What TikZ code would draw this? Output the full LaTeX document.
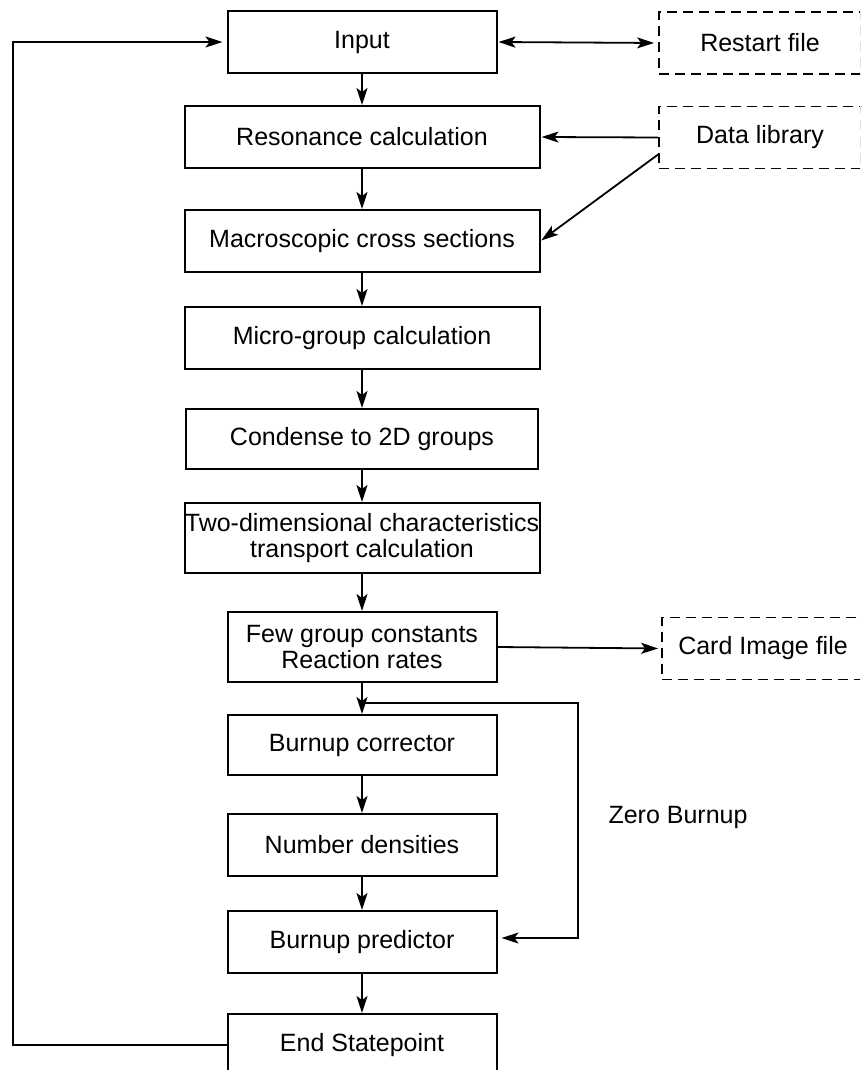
\documentclass[tikz,border=0pt]{standalone}
\usepackage{fontspec}
\setmainfont{Liberation Sans}
\usetikzlibrary{arrows.meta}

\begin{document}
\begin{tikzpicture}[
    x=1pt, y=-1pt,
    font=\fontsize{25}{26.5}\selectfont,
    >={Stealth[length=17pt, width=11pt, inset=4pt]},
    box/.style={draw, line width=2pt, align=center, inner sep=0pt, minimum height=62pt},
    narrowbox/.style={box, minimum width=269pt},
    widebox/.style={box, minimum width=355pt},
    filebox/.style={draw, dashed, dash pattern=on 10pt off 6pt, line width=1.8pt, minimum width=202pt, minimum height=62pt, inner sep=0pt},
    arr/.style={->, line width=1.8pt},
    lbl/.style={inner sep=0pt},
]
    \useasboundingbox (0,0) rectangle (860,1070);
    \clip (0,0) rectangle (860,1070);

    % Main column
    \node[narrowbox] (inp) at (362, 42)   {Input};
    \node[widebox]   (res) at (362, 137)  {Resonance calculation};
    \node[widebox]   (mac) at (362, 241)  {Macroscopic cross sections};
    \node[widebox]   (mic) at (362, 338)  {Micro-group calculation};
    \node[widebox, minimum width=352pt, minimum height=60pt] (con) at (362, 439) {Condense to 2D groups};
    \node[widebox, minimum height=70pt] (two) at (362, 538) {Two-dimensional characteristics\\transport calculation};
    \node[narrowbox, minimum height=70pt] (few) at (362, 647) {Few group constants\\Reaction rates};
    \node[narrowbox, minimum height=60pt] (cor) at (362, 745) {Burnup corrector};
    \node[narrowbox] (num) at (362, 845)  {Number densities};
    \node[narrowbox] (pre) at (362, 942)  {Burnup predictor};
    \node[narrowbox] (end) at (362, 1045) {End Statepoint};

    % Files on the right
    \node[filebox] (rst)  at (760, 43)    {Restart file};
    \node[filebox] (data) at (760, 137.5) {Data library};
    \node[filebox] (card) at (763, 648.5) {Card Image file};

    \node[lbl] (zb) at (678, 817) {Zero Burnup};

    % Loop corners
    \coordinate (jct)   at (362, 703);
    \coordinate (zbtop) at (578, 703);
    \coordinate (fbbot) at (13, 1045);

    % Arrows down the column
    \draw[arr] (inp) -- (res);
    \draw[arr] (res) -- (mac);
    \draw[arr] (mac) -- (mic);
    \draw[arr] (mic) -- (con);
    \draw[arr] (con) -- (two);
    \draw[arr] (two) -- (few);
    \draw[arr] (few) -- (cor);
    \draw[arr] (cor) -- (num);
    \draw[arr] (num) -- (pre);
    \draw[arr] (pre) -- (end);

    % Files
    \draw[arr, <->, shorten <=1pt, shorten >=4pt] (inp.east) -- (rst.west);
    \draw[arr, shorten >=1pt] (data.west) -- (res.east);
    \draw[arr, shorten >=1pt] ([yshift=-17pt]data.west) -- (mac.east);
    \draw[arr, shorten >=3pt] (few.east) -- (card.west);

    % Zero burnup bypass
    \draw[arr, shorten >=4pt] (jct) -- (zbtop) |- ([yshift=4pt]pre.east);

    % Back to input
    \draw[arr, shorten >=4pt] (end.west) -- (fbbot) |- (inp.west);
\end{tikzpicture}
\end{document}
